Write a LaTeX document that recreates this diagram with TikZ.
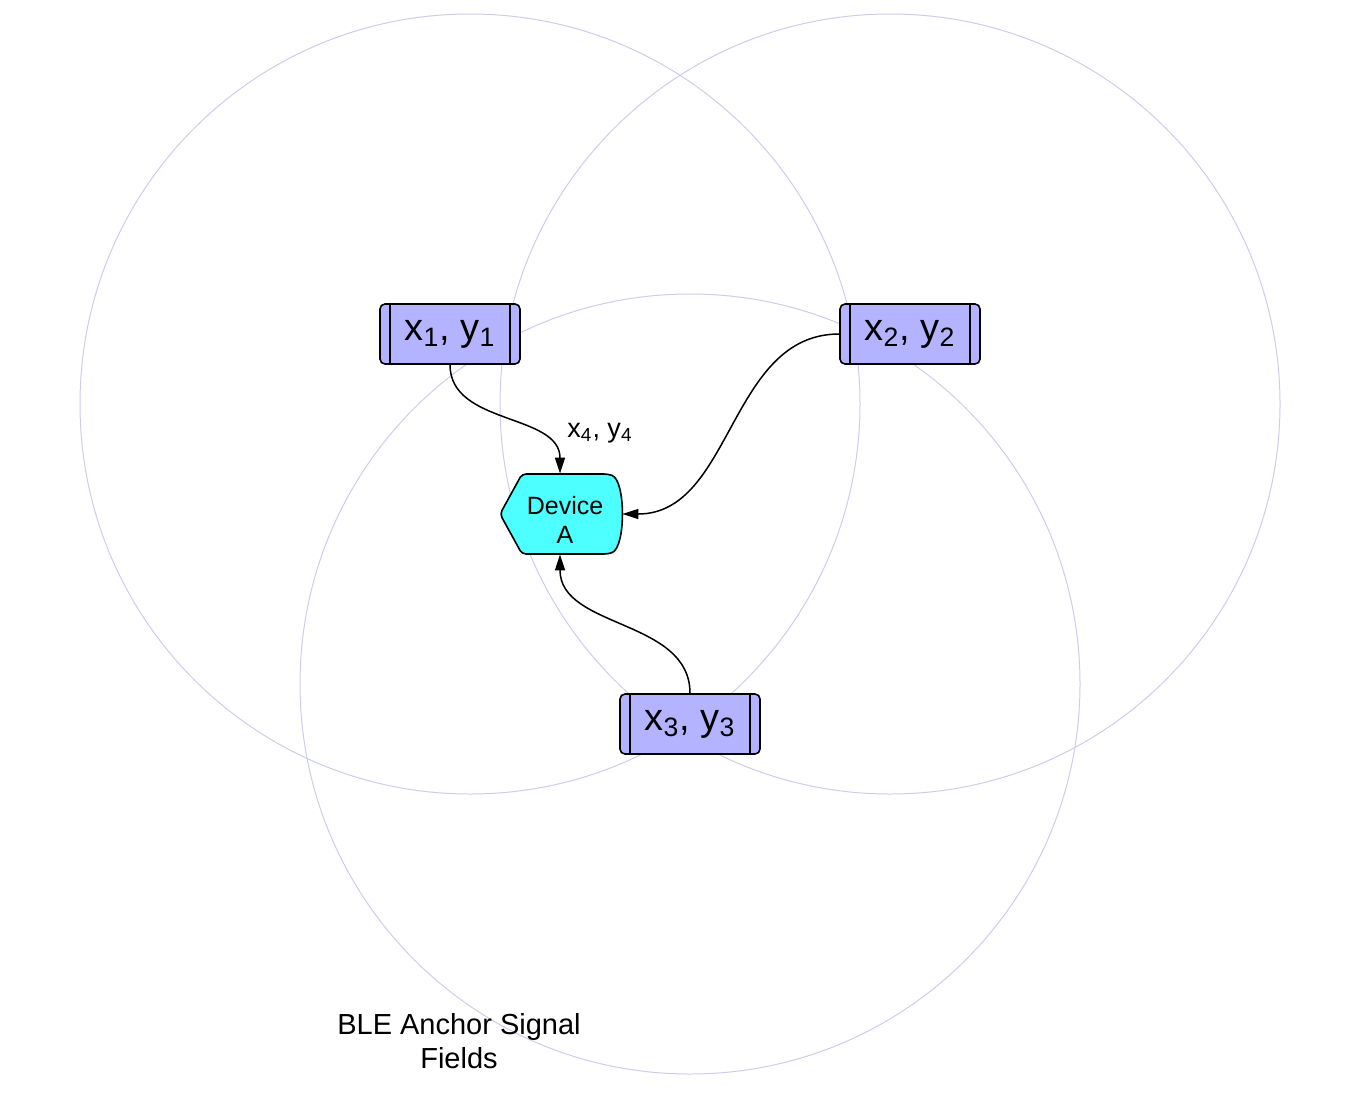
\documentclass[tikz,border=0pt]{standalone}
\usepackage{fontspec}
\setmainfont{Liberation Sans}
\usetikzlibrary{arrows.meta}
\definecolor{fieldline}{RGB}{204,204,238}
\definecolor{anchorfill}{RGB}{179,179,255}
\definecolor{devicefill}{RGB}{77,255,255}
\tikzset{
    anchorbox/.style={draw, line width=0.8pt, fill=anchorfill, rounded corners=2.5pt,
        minimum width=70pt, minimum height=30pt, inner sep=0pt,
        font=\fontsize{19}{22}\selectfont,
        path picture={
            \draw[line width=0.8pt] ([xshift=5pt]path picture bounding box.north west) -- ([xshift=5pt]path picture bounding box.south west);
            \draw[line width=0.8pt] ([xshift=-5pt]path picture bounding box.north east) -- ([xshift=-5pt]path picture bounding box.south east);
        }},
    signal/.style={-{Triangle[length=8pt, width=5pt]}, line width=0.75pt},
}
\begin{document}
\begin{tikzpicture}[x=0.5pt, y=-0.5pt]
    \useasboundingbox (0, 0) rectangle (1358, 1114);

    % Signal fields of the three anchors
    \draw[fieldline, line width=0.5pt] (470, 404) circle[radius=195pt];
    \draw[fieldline, line width=0.5pt] (890, 404) circle[radius=195pt];
    \draw[fieldline, line width=0.5pt] (690, 684) circle[radius=195pt];

    % Anchors
    \node[anchorbox] (anchor1) at (450, 334) {x\textsubscript{1}, y\textsubscript{1}};
    \node[anchorbox] (anchor2) at (910, 334) {x\textsubscript{2}, y\textsubscript{2}};
    \node[anchorbox] (anchor3) at (690, 724) {x\textsubscript{3}, y\textsubscript{3}};

    % Device A (display shape)
    \draw[line width=0.8pt, fill=devicefill, rounded corners=2pt]
        (522, 474) -- (608, 474) .. controls (626, 480) and (626, 548) .. (608, 554)
        -- (522, 554) -- (500, 514) -- cycle;
    \node[minimum width=61pt, minimum height=40pt, inner sep=0pt] (device) at (561, 514) {};
    \node[align=center, font=\fontsize{12.5}{14.5}\selectfont] (devlabel) at (565, 520) {Device\\A};

    \node[font=\fontsize{13.5}{16}\selectfont] (pos4) at (600, 433) {x\textsubscript{4}, y\textsubscript{4}};

    % Signals to the device
    \draw[signal] (anchor1.south) to[out=-90, in=90] ([xshift=-0.5pt]device.north);
    \draw[signal] (anchor2.west) to[out=180, in=0] (device.east);
    \draw[signal] (anchor3.north) to[out=90, in=-90] ([xshift=-0.5pt]device.south);

    \node[align=center, font=\fontsize{14.5}{17}\selectfont] (fields) at (459, 1041) {BLE Anchor Signal\\Fields};
\end{tikzpicture}
\end{document}
